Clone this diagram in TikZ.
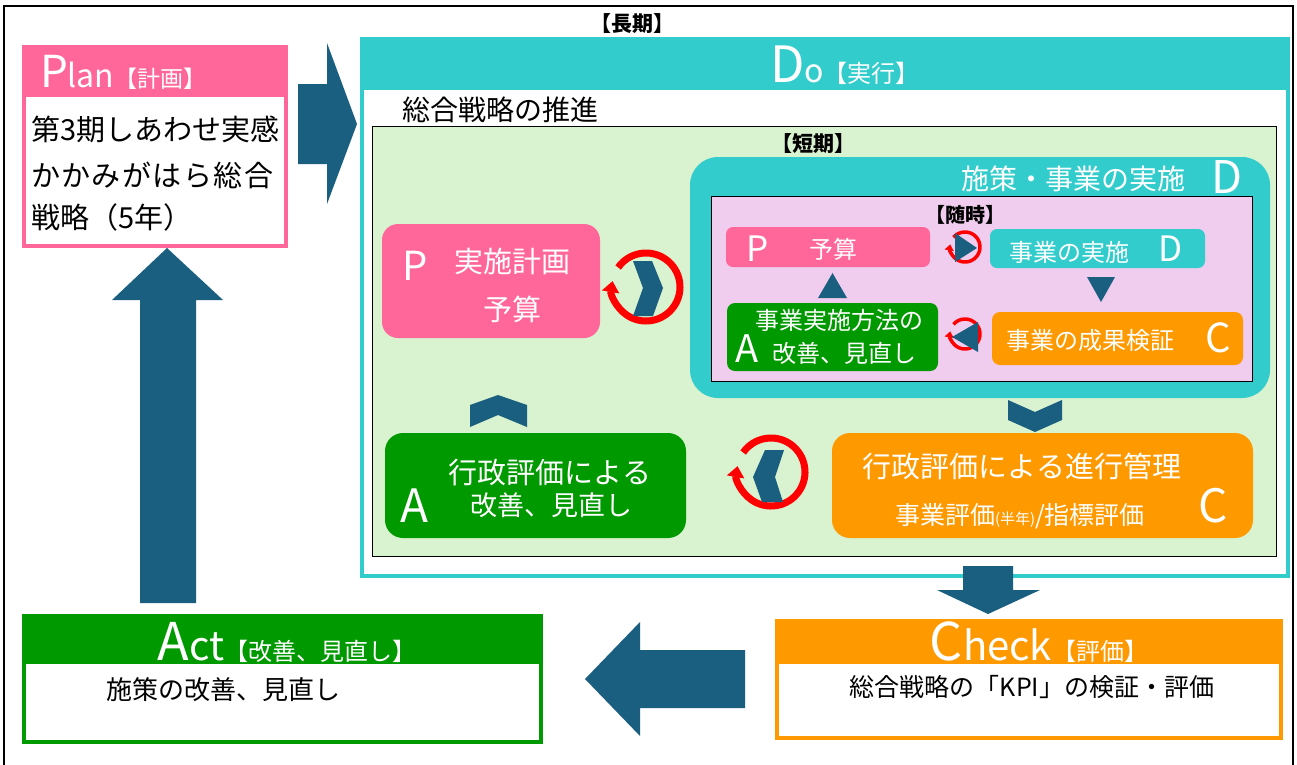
\documentclass[tikz,border=0pt]{standalone}
\usepackage{fontspec}
\setmainfont{Noto Sans CJK JP}
\usetikzlibrary{arrows.meta}
\definecolor{cpink}{HTML}{FF6699}
\definecolor{cteal}{HTML}{33CCCC}
\definecolor{cgreen}{HTML}{009900}
\definecolor{corange}{HTML}{FF9900}
\definecolor{cblue}{HTML}{1A5F80}
\definecolor{clgreen}{HTML}{D9F2D0}
\definecolor{clpink}{HTML}{F0CCEE}
\newcommand{\myfs}[1]{\fontsize{#1pt}{#1pt}\selectfont}
\begin{document}
\begin{tikzpicture}[x=1pt,y=-1pt,
  every node/.style={inner sep=0pt,outer sep=0pt},
  tw/.style={text=white,anchor=base},
  twl/.style={text=white,anchor=base west},
  tb/.style={text=black,anchor=base},
  tbl/.style={text=black,anchor=base west},
  rbox/.style={rounded corners=#1},
  ring/.style={red,line width=7pt,-{Triangle[width=17pt,length=11pt]}},
  sring/.style={red,line width=3.5pt,-{Triangle[width=9pt,length=6pt]}},
  blk/.style={fill=cblue}]
\useasboundingbox (0,0) rectangle (1297,764);
\fill[white] (0,0) rectangle (1297,764);
% outer frame
\draw[line width=1.5pt] (4,6) rectangle (1293,790);

% ---------- Plan ----------
\fill[cpink] (22,45) rectangle (288,95);
\draw[cpink,line width=4pt,fill=white] (24,95) rectangle (286,246);
\node[twl] (planT) at (40,87) {\myfs{44}P\myfs{32}lan\myfs{23}【計画】};
\node[tbl] (plan1) at (31,140) {\myfs{29}第3期しあわせ実感};
\node[tbl] (plan2) at (31,186) {\myfs{29}か\hspace{1.5pt}か\hspace{1.5pt}み\hspace{1.5pt}が\hspace{1.5pt}は\hspace{1.5pt}ら\hspace{1.5pt}総\hspace{1.5pt}合};
\node[tbl] (plan3) at (31,228) {\myfs{29}戦略（5年）};

% arrow Plan -> Do
\fill[blk] (298,84) -- (327,84) -- (327,43) -- (357,124) -- (327,204) -- (327,164) -- (298,164) -- cycle;

% ---------- Do ----------
\node[tb] (long) at (632,31) {\myfs{21}\bfseries 【長期】};
\fill[cteal] (360,37) rectangle (1290,88);
\draw[cteal,line width=4pt,fill=white] (362,88) rectangle (1288,576);
\node[tw] (doT) at (845,82) {\myfs{50}D\myfs{32}o\myfs{24}【実行】};
\node[tbl] (suishin) at (402,120) {\myfs{28}総合戦略の推進};
\draw[fill=clgreen,line width=0.8pt] (372,126) rectangle (1276,556);
\node[tb] (short) at (813,151) {\myfs{21}\bfseries 【短期】};

% P big
\node[fill=cpink,rbox=16pt,minimum width=218pt,minimum height=114pt] (pbig) at (491,281) {};
\node[twl] (pbigP) at (402,280) {\myfs{40}P};
\node[tw] (pbig1) at (512,272) {\myfs{29}実施計画};
\node[tw] (pbig2) at (512,320) {\myfs{29}予算};

% ring 1 with chevron
\draw[ring] (646,287) ++(-145:34) arc[start angle=-145,end angle=190,radius=34];
\fill[blk] (633,261) -- (652,261) -- (663,288) -- (653,316) -- (633,316) -- (643,288) -- cycle;

% teal D rounded box
\node[fill=cteal,rbox=28pt,minimum width=580pt,minimum height=241pt] (dbig) at (980,277.5) {};
\node[tw] (dbigT) at (1073,189) {\myfs{28}施策・事業の実施};
\node[twl] (dbigD) at (1211,193) {\myfs{45}D};
\draw[fill=clpink,line width=1pt] (711,196) rectangle (1252,381);
\node[tb] (zuiji) at (965,222) {\myfs{20}\bfseries 【随時】};

% small P
\node[fill=cpink,rbox=7pt,minimum width=204pt,minimum height=40pt] (ps) at (828,247) {};
\node[twl] (psP) at (746,261) {\myfs{35}P};
\node[tw] (psT) at (833,258) {\myfs{24}予算};
% small ring 1
\draw[sring] (965,247) ++(-140:15) arc[start angle=-140,end angle=190,radius=15];
\fill[blk] (955,233) -- (955,262) -- (977,248) -- cycle;
% small D
\node[fill=cteal,rbox=7pt,minimum width=215pt,minimum height=39pt] (ds) at (1097.5,248.5) {};
\node[tw] (dsT) at (1069,261) {\myfs{24}事業の実施};
\node[twl] (dsD) at (1158,261) {\myfs{35}D};
% triangles
\fill[blk] (1087,277) -- (1115,277) -- (1101,302) -- cycle;
\fill[blk] (818,298) -- (847,298) -- (832.5,273) -- cycle;
% small A
\node[fill=cgreen,rbox=8pt,minimum width=211pt,minimum height=68pt] (as) at (832.5,337) {};
\node[tw] (asT1) at (839,329) {\myfs{24}事業実施方法の};
\node[twl] (asA) at (735,362) {\myfs{38}A};
\node[tw] (asT2) at (844,362) {\myfs{24}改善、見直し};
% small ring 2
\draw[sring] (965,334) ++(-140:15) arc[start angle=-140,end angle=190,radius=15];
\fill[blk] (978,322) -- (978,352) -- (952,337) -- cycle;
% small C
\node[fill=corange,rbox=8pt,minimum width=251pt,minimum height=53pt] (cs) at (1117.5,338.5) {};
\node[tw] (csT) at (1090,349) {\myfs{24}事業の成果検証};
\node[twl] (csC) at (1205,352) {\myfs{40}C};

% chevrons
\fill[blk] (470,405) -- (498,395) -- (527,405) -- (527,427) -- (498,415) -- (470,427) -- cycle;
\fill[blk] (1008,400) -- (1035,412) -- (1062,400) -- (1062,420) -- (1035,432) -- (1008,420) -- cycle;

% A big
\node[fill=cgreen,rbox=18pt,minimum width=301pt,minimum height=105pt] (abig) at (535.5,485.5) {};
\node[tw] (abig1) at (550,483) {\myfs{29}行政評価による};
\node[tw] (abig2) at (551,515) {\myfs{27}改善、見直し};
\node[twl] (abigA) at (400,522) {\myfs{46}A};

% ring 2 with chevron
\draw[ring] (771,472) ++(-145:34) arc[start angle=-145,end angle=190,radius=34];
\fill[blk] (765,450) -- (784,450) -- (775,477) -- (783,502) -- (762,502) -- (753,477) -- cycle;

% C big
\node[fill=corange,rbox=18pt,minimum width=421pt,minimum height=105pt] (cbig) at (1042.5,485.5) {};
\node[tw] (cbig1) at (1022,477) {\myfs{29}行政評価による進行管理};
\node[tw] (cbig2) at (1020,524) {\myfs{25}事業評価\myfs{15}(半年)\myfs{25}/指標評価};
\node[twl] (cbigC) at (1198,522) {\myfs{46}C};

% arrow Do -> Check
\fill[blk] (963,566) -- (1013,566) -- (1013,590) -- (1040,590) -- (988,614) -- (937,590) -- (963,590) -- cycle;

% ---------- Check ----------
\fill[corange] (775,619) rectangle (1283,662);
\draw[corange,line width=4pt,fill=white] (777,662) rectangle (1281,738);
\node[tw] (checkT) at (1039,660) {\myfs{52}C\myfs{40}heck\myfs{24}【評価】};
\node[tb] (checkB) at (1032,696) {\myfs{25}総合戦略の「KPI」の検証・評価};

% arrow Check -> Act
\fill[blk] (745,650) -- (640,650) -- (640,622) -- (585,679) -- (640,736) -- (640,708) -- (745,708) -- cycle;

% ---------- Act ----------
\fill[cgreen] (22,614) rectangle (543,662);
\draw[cgreen,line width=4pt,fill=white] (24,662) rectangle (541,742);
\node[tw] (actT) at (287,660) {\myfs{52}A\myfs{40}ct\myfs{24}【改善、見直し】};
\node[tbl] (actB) at (106,699) {\myfs{26}施策の改善、見直し};

% arrow Act -> Plan
\fill[blk] (140,603) -- (140,300) -- (112,300) -- (167,248) -- (223,300) -- (196,300) -- (196,603) -- cycle;
\end{tikzpicture}
\end{document}
